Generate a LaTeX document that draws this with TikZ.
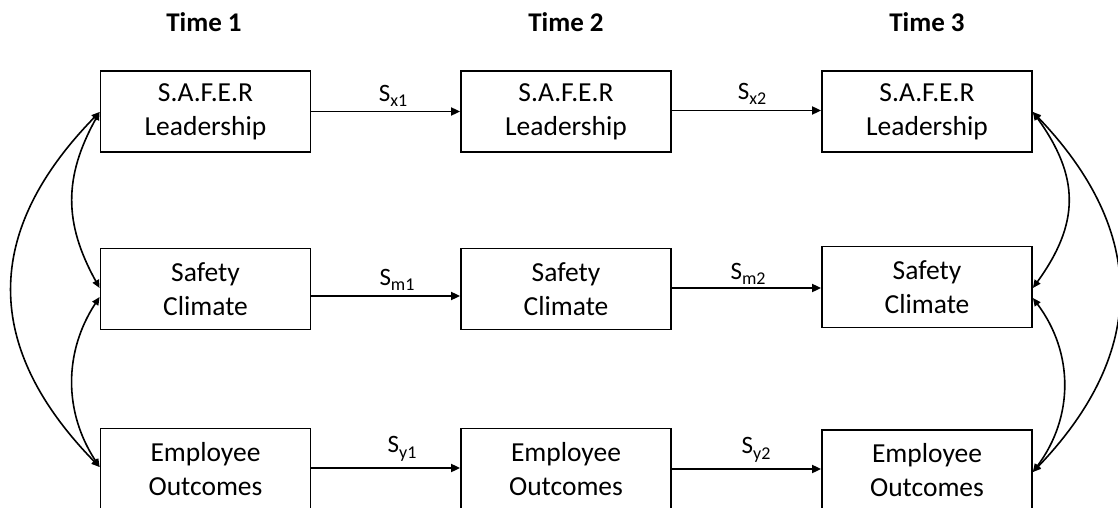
\documentclass[tikz,border=0pt]{standalone}
\usepackage{fontspec}
\setmainfont{Carlito}
\usetikzlibrary{arrows.meta}
\newcommand{\lblsub}[1]{S\raisebox{-0.22em}{\fontsize{18}{18}\selectfont #1}}
\begin{document}
\begin{tikzpicture}[x=1pt,y=-1pt,
  box/.style={draw, line width=1.8pt, minimum width=210pt, minimum height=81pt,
    align=center, inner sep=0pt, font=\fontsize{27.5}{34}\selectfont},
  hdr/.style={font=\fontsize{27}{32}\selectfont\bfseries},
  lbl/.style={font=\fontsize{25}{28}\selectfont, inner sep=0pt},
  conn/.style={line width=1.8pt, -{Triangle[length=9pt,width=8pt]}},
  corr/.style={line width=1.6pt, {Triangle[length=8pt,width=7pt]}-{Triangle[length=8pt,width=7pt]}}]
\useasboundingbox (0,0) rectangle (1118,508);
% headers
\node[hdr] (h1) at (204,22) {Time 1};
\node[hdr] (h2) at (566,22) {Time 2};
\node[hdr] (h3) at (927,22) {Time 3};
% boxes
\node[box] (x1) at (205.5,111.5) {S.A.F.E.R\\Leadership};
\node[box] (x2) at (566,111.5) {S.A.F.E.R\\Leadership};
\node[box] (x3) at (927,111.5) {S.A.F.E.R\\Leadership};
\node[box] (m1) at (205.5,289) {Safety\\Climate};
\node[box] (m2) at (566,289) {Safety\\Climate};
\node[box] (m3) at (927,287) {Safety\\Climate};
\node[box] (y1) at (205.5,469) {Employee\\Outcomes};
\node[box] (y2) at (566,469) {Employee\\Outcomes};
\node[box] (y3) at (927,470.5) {Employee\\Outcomes};
% horizontal paths
\draw[conn] (x1.east) -- (x2.west);
\draw[conn] ([yshift=1pt]x2.east) -- ([yshift=1pt]x3.west);
\draw[conn] ([yshift=-7pt]m1.east) -- ([yshift=-7pt]m2.west);
\draw[conn] ([yshift=1pt]m2.east) -- ([yshift=-1pt]m3.west);
\draw[conn] ([yshift=1pt]y1.east) -- ([yshift=1pt]y2.west);
\draw[conn] (y2.east) -- ([yshift=1.5pt]y3.west);
% labels
\node[lbl] (lx1) at (393,96) {\lblsub{x1}};
\node[lbl] (lx2) at (752,94) {\lblsub{x2}};
\node[lbl] (lm1) at (397,280) {\lblsub{m1}};
\node[lbl] (lm2) at (748,274) {\lblsub{m2}};
\node[lbl] (ly1) at (402,449) {\lblsub{y1}};
\node[lbl] (ly2) at (756,450) {\lblsub{y2}};
% left correlations
\draw[corr] ([yshift=-0.5pt]x1.west) .. controls +(-117,120) and +(-117,-120) .. ([yshift=2pt]y1.west);
\draw[corr] ([yshift=-0.5pt]x1.west) .. controls +(-36,65) and +(-36,-65) .. ([yshift=1pt]m1.west);
\draw[corr] ([yshift=-8pt]m1.west) .. controls +(-36,55) and +(-36,-55) .. ([yshift=2pt]y1.west);
% right correlations
\draw[corr] ([yshift=-0.5pt]x3.east) .. controls +(115,120) and +(115,-120) .. ([yshift=-1.5pt]y3.east);
\draw[corr] ([yshift=-0.5pt]x3.east) .. controls +(47,65) and +(47,-65) .. ([yshift=-1pt]m3.east);
\draw[corr] ([yshift=-11pt]m3.east) .. controls +(41,55) and +(41,-55) .. ([yshift=-1.5pt]y3.east);
\end{tikzpicture}
\end{document}
